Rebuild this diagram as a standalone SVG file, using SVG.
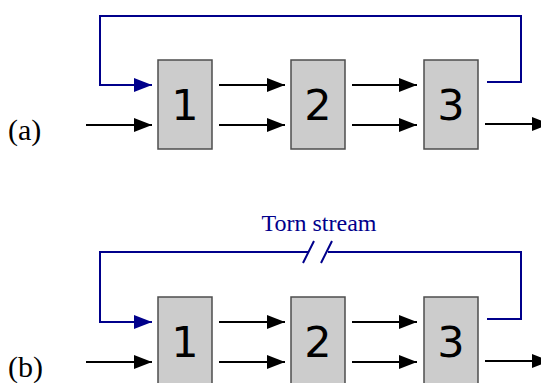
<svg xmlns="http://www.w3.org/2000/svg" width="541" height="383" viewBox="0 0 541 383">
<defs>
<marker id="ah" markerUnits="userSpaceOnUse" markerWidth="18" markerHeight="14" refX="18" refY="7" orient="auto"><path d="M0,0 L18,7 L0,14 z" fill="#000"/></marker>
<marker id="ahb" markerUnits="userSpaceOnUse" markerWidth="18" markerHeight="14" refX="18" refY="7" orient="auto"><path d="M0,0 L18,7 L0,14 z" fill="#00008b"/></marker>
</defs>
<style>
.box{fill:#cccccc;stroke:#4d4d4d;stroke-width:1.5}
.num{font-family:"DejaVu Sans",sans-serif;font-size:43px;text-anchor:middle;fill:#000}
.lbl{font-family:"Liberation Serif",serif;font-size:30px;fill:#000}
.ar{stroke:#000;stroke-width:2;fill:none;marker-end:url(#ah)}
.fb{stroke:#00008b;stroke-width:2;fill:none}
.fba{stroke:#00008b;stroke-width:2;fill:none;marker-end:url(#ahb)}
.torn{font-family:"Liberation Serif",serif;font-size:24px;fill:#00008b;text-anchor:middle}
</style>
<g id="label-a"><text class="lbl" x="8" y="140">(a)</text></g>
<g id="label-b"><text class="lbl" x="8" y="377">(b)</text></g>
<g id="a-n1"><rect class="box" x="158" y="60" width="54" height="89"/><text class="num" x="185" y="120">1</text></g>
<g id="a-n2"><rect class="box" x="291" y="60" width="54" height="89"/><text class="num" x="318" y="120">2</text></g>
<g id="a-n3"><rect class="box" x="424" y="60" width="54" height="89"/><text class="num" x="451" y="120">3</text></g>
<g id="b-n1"><rect class="box" x="158" y="297" width="54" height="89"/><text class="num" x="185" y="357">1</text></g>
<g id="b-n2"><rect class="box" x="291" y="297" width="54" height="89"/><text class="num" x="318" y="357">2</text></g>
<g id="b-n3"><rect class="box" x="424" y="297" width="54" height="89"/><text class="num" x="451" y="357">3</text></g>
<g id="b-torn-label"><text class="torn" x="319" y="231">Torn stream</text></g>
<g id="connectors">
<line class="ar" x1="86" y1="125" x2="152" y2="125"/>
<line class="ar" x1="219" y1="85" x2="285" y2="85"/>
<line class="ar" x1="219" y1="125" x2="285" y2="125"/>
<line class="ar" x1="352" y1="85" x2="417" y2="85"/>
<line class="ar" x1="352" y1="125" x2="417" y2="125"/>
<line class="ar" x1="485" y1="124" x2="550" y2="124"/>
<path class="fb" d="M487,82 H521 V16 H100 V85"/>
<path class="fba" d="M99,85 H152"/>
<line class="ar" x1="86" y1="362" x2="152" y2="362"/>
<line class="ar" x1="219" y1="322" x2="285" y2="322"/>
<line class="ar" x1="219" y1="362" x2="285" y2="362"/>
<line class="ar" x1="352" y1="322" x2="417" y2="322"/>
<line class="ar" x1="352" y1="362" x2="417" y2="362"/>
<line class="ar" x1="485" y1="361" x2="550" y2="361"/>
<path class="fb" d="M487,319 H521 V252 H328"/>
<path class="fb" d="M309,252 H100 V322"/>
<path class="fb" d="M303,263 L314,241 M321,263 L332,241"/>
<path class="fba" d="M99,322 H152"/>
</g>
</svg>
